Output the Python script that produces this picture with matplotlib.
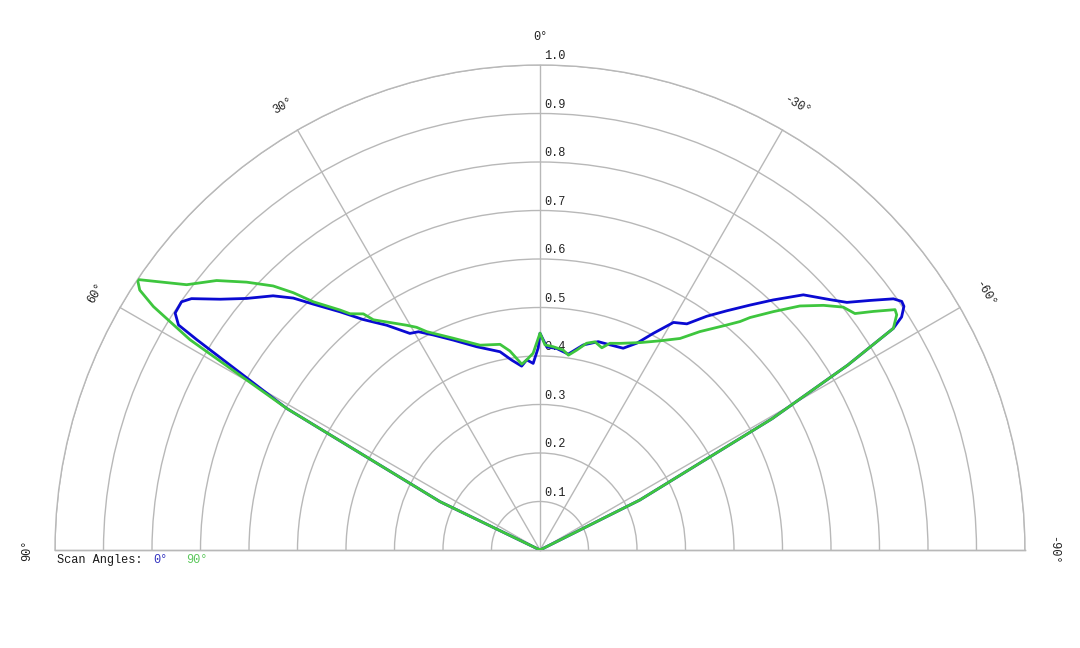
import numpy as np
import matplotlib
matplotlib.use("Agg")
import matplotlib.pyplot as plt

# ---- data (angle in degrees, positive = left of 0°, relative intensity) ----
blue_theta = [66.3, 64.2, 60.8, 58.5, 58.1, 57.0, 55.3, 54.2, 51.9, 49.4, 46.4, 44.4, 42.7, 40.0,
              37.5, 34.3, 31.0, 29.1, 26.4, 22.4, 17.3, 11.4, 8.5, 5.7, 4.0, 2.1, 0.5, 0.0,
              -1.9, -4.7, -8.2, -11.9, -15.6, -18.9, -22.4, -25.1, -27.6, -30.4, -33.0, -35.5,
              -38.0, -40.6, -43.0, -45.9, -49.2, -51.1, -52.9, -54.6, -55.5, -56.2, -57.2, -57.9,
              -59.0, -60.5, -63.4, -65.5]
blue_r = [0, 0.229, 0.598, 0.830, 0.878, 0.897, 0.899, 0.886, 0.838, 0.797, 0.760, 0.727, 0.690, 0.641,
          0.599, 0.561, 0.521, 0.515, 0.495, 0.468, 0.439, 0.417, 0.396, 0.381, 0.393, 0.385, 0.417, 0.447,
          0.419, 0.417, 0.408, 0.432, 0.446, 0.447, 0.450, 0.471, 0.504, 0.544, 0.556, 0.592,
          0.626, 0.665, 0.705, 0.756, 0.790, 0.813, 0.853, 0.894, 0.905, 0.903, 0.887, 0.860,
          0.74, 0.55, 0.23, 0]

green_theta = [66.3, 64.2, 60.8, 59.0, 57.8, 57.0, 56.1, 54.8, 53.1, 50.2, 47.6, 45.3, 43.8, 42.4,
               39.8, 38.8, 36.8, 35.9, 30.7, 29.0, 27.4, 22.3, 16.3, 11.0, 8.6, 5.6, 4.0, 2.0, 0.0,
               -1.4, -3.7, -6.6, -8.3, -10.4, -12.7, -14.8, -17.0, -18.7, -21.2, -25.8, -29.8,
               -33.5, -36.2, -38.0, -39.7, -41.2, -42.1, -44.4, -46.8, -49.2, -51.3, -53.1, -54.4,
               -55.9, -56.6, -57.9, -59.0, -60.5, -63.4, -65.5]
green_r = [0, 0.229, 0.598, 0.842, 0.942, 0.984, 1.0, 0.959, 0.911, 0.868, 0.819, 0.774, 0.735, 0.693,
           0.644, 0.625, 0.608, 0.586, 0.539, 0.525, 0.507, 0.472, 0.440, 0.432, 0.415, 0.385, 0.393, 0.406, 0.447,
           0.423, 0.420, 0.415, 0.406, 0.419, 0.437, 0.444, 0.436, 0.450, 0.457, 0.475, 0.497,
           0.523, 0.558, 0.580, 0.603, 0.626, 0.646, 0.688, 0.735, 0.772, 0.801, 0.812, 0.845,
           0.884, 0.881, 0.860, 0.74, 0.55, 0.23, 0]

angle_ticks = [90, 60, 30, 0, -30, -60, -90]
radial_ticks = [0.1, 0.2, 0.3, 0.4, 0.5, 0.6, 0.7, 0.8, 0.9, 1.0]
series_names = ["0°", "90°"]

BLUE = "#0a0ad2"
GREEN = "#3ec63e"
GRID = "#b8b8b8"
FONT = "Liberation Mono"
FS = 8.6

fig = plt.figure(figsize=(10.8, 6.48), dpi=100)
W, H = 1080, 648
cx, cy, R = 540, 550, 485
# The half-wedge is fitted centred inside a square box of side 2R
S = 2 * R
box_top = cy - 0.75 * S
ax = fig.add_axes([(cx - R) / W, (H - (box_top + S)) / H, S / W, S / H], projection="polar")
ax.set_theta_zero_location("N")
ax.set_theta_direction(1)
ax.set_thetamin(-90)
ax.set_thetamax(90)
ax.set_ylim(0, 1.0)

ax.set_thetagrids(angle_ticks, labels=[""] * len(angle_ticks))
ax.set_rgrids(radial_ticks, labels=[""] * len(radial_ticks))
ax.grid(True, color=GRID, linewidth=1.0)
for sp in ax.spines.values():
    sp.set_color(GRID)
    sp.set_linewidth(1.0)
ax.tick_params(length=0)
for gl in ax.yaxis.get_gridlines() + ax.xaxis.get_gridlines():
    gl.set_clip_on(False)

for th, rr, col in [(blue_theta, blue_r, BLUE), (green_theta, green_r, GREEN)]:
    ax.plot(np.deg2rad(th), rr, color=col, linewidth=2.0, solid_joinstyle="round", zorder=5)

for rv in radial_ticks:
    ax.annotate(f"{rv:.1f}", xy=(0, rv), xytext=(3, 2), textcoords="offset points",
                ha="left", va="bottom", fontsize=FS, family=FONT, color="#222222", zorder=3)

for a in angle_ticks:
    ax.text(np.deg2rad(a), 1.058, f"{a}°", rotation=a, rotation_mode="anchor",
            ha="center", va="center", fontsize=FS, family=FONT, color="#222222")

fig.text(57 / W, 1 - 560 / H, "Scan Angles:", ha="left", va="center", fontsize=FS,
         family=FONT, color="#1a1a1a")
fig.text(153 / W, 1 - 560 / H, series_names[0], ha="left", va="center", fontsize=FS,
         family=FONT, color="#3535c0")
fig.text(186 / W, 1 - 560 / H, series_names[1], ha="left", va="center", fontsize=FS,
         family=FONT, color="#5cc85c")

fig.savefig("out.png", dpi=100)
